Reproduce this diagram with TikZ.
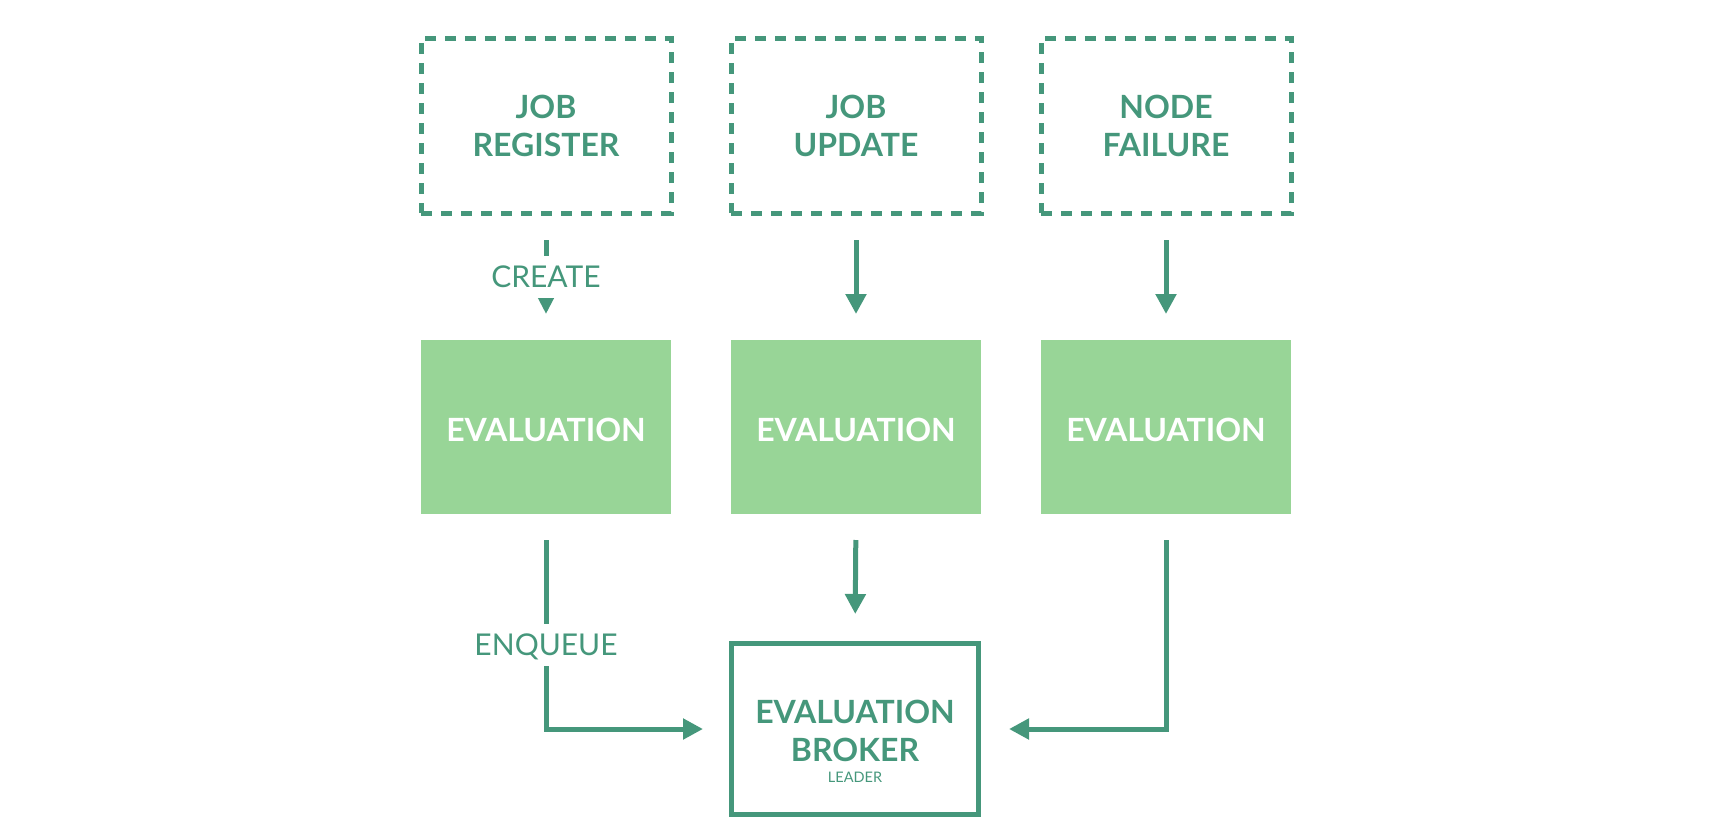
\documentclass[tikz,border=0pt]{standalone}
\usepackage{fontspec}
\setmainfont{Lato}
\usetikzlibrary{arrows.meta}
\definecolor{nteal}{RGB}{69,151,123}
\definecolor{evgreen}{RGB}{152,213,151}
\begin{document}
\begin{tikzpicture}[x=1pt,y=-1pt,
  every node/.style={outer sep=0pt},
  dashbox/.style={draw=nteal, line width=5pt, dash pattern=on 11pt off 9pt,
    minimum width=250pt, minimum height=175pt, inner sep=0pt, align=center,
    text=nteal, font=\bfseries\fontsize{32}{38}\selectfont},
  evalbox/.style={fill=evgreen, minimum width=250pt, minimum height=174pt,
    inner sep=0pt, text=white, text height=28pt, text depth=0pt,
    font=\bfseries\fontsize{32}{38}\selectfont},
  brokerbox/.style={draw=nteal, line width=5pt, minimum width=247pt,
    minimum height=171pt, inner sep=0pt},
  brokertext/.style={text=nteal, inner sep=0pt, align=center,
    font=\bfseries\fontsize{32}{38}\selectfont},
  smalltext/.style={text=nteal, inner sep=0pt, font=\fontsize{14.5}{17}\selectfont},
  conn/.style={draw=nteal, line width=5pt, line join=miter,
    -{Triangle[length=20pt,width=20pt]}},
  smallconn/.style={draw=nteal, line width=5pt,
    -{Triangle[length=16pt,width=15pt]}},
  lbl/.style={fill=white, text=nteal, inner xsep=4pt, inner ysep=10pt,
    text height=22pt, text depth=0pt, font=\fontsize{30}{36}\selectfont}
]
\useasboundingbox (0,0) rectangle (1710,833);

% top row
\node[dashbox] (jr) at (546,125.5) {JOB\\REGISTER};
\node[dashbox] (ju) at (856,125.5) {JOB\\UPDATE};
\node[dashbox] (nf) at (1166,125.5) {NODE\\FAILURE};

% evaluation row
\node[evalbox] (ev1) at (546,427) {EVALUATION};
\node[evalbox] (ev2) at (856,427) {EVALUATION};
\node[evalbox] (ev3) at (1166,427) {EVALUATION};

% broker
\node[brokerbox] (broker) at (855,729) {};
\node[brokertext] (brokertitle) at (855,731) {EVALUATION\\BROKER};
\node[smalltext, anchor=base] (leader) at (855,782) {LEADER};

% top arrows
\draw[smallconn, shorten <=27pt, shorten >=26pt] (jr.south) -- node[lbl, midway] (create) {CREATE} (ev1.north);
\draw[conn, shorten <=27pt, shorten >=26pt] (ju.south) -- (ev2.north);
\draw[conn, shorten <=27pt, shorten >=26pt] (nf.south) -- (ev3.north);

% bottom arrows
\draw[conn, shorten <=26pt, shorten >=29.5pt] (ev2.south) -- (broker.north);
\draw[conn, shorten <=26pt, shorten >=28.5pt] (ev1.south) |- node[lbl, pos=0.3035] (enqueue) {ENQUEUE} (broker.west);
\draw[conn, shorten <=26pt, shorten >=30.5pt] (ev3.south) |- (broker.east);
\end{tikzpicture}
\end{document}
